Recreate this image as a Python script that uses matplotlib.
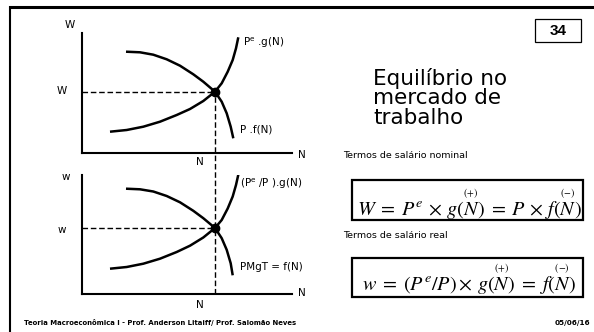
import matplotlib.pyplot as plt

f_top_N = [44, 58, 71.3, 84.7, 98, 111.3, 121.3, 133, 139.7, 144.7, 148.7, 151.3]
f_top_W = [101.3, 100.7, 98.3, 93.7, 87.3, 78.7, 71.3, 61.3, 51.3, 39.7, 26.3, 14.7]
g_top_N = [28, 44.7, 61.3, 78, 94.7, 108, 121.3, 133, 139.7, 145.7, 150.7, 154, 156.3]
g_top_W = [21.3, 23, 26.3, 31.3, 38, 44, 52, 61.3, 69.7, 81.3, 93, 104.7, 115.7]

f_bot_N = [44, 58, 71.3, 84.7, 98, 111.3, 121.3, 133, 139.7, 144.7, 148.7, 150.7]
f_bot_W = [105.3, 104.7, 102.5, 98, 91.7, 83.2, 75.8, 66, 55.8, 44.2, 30.7, 18.7]
g_bot_N = [28, 44.7, 61.3, 78, 94.7, 108, 121.3, 133, 139.7, 145.7, 150.7, 154, 156.3]
g_bot_W = [25.3, 27, 30.3, 35.3, 42, 48.3, 56.5, 66, 74, 85.5, 97.5, 109, 119.3]

eq_top = (133, 61.3)
eq_bot = (133, 66)
eq_top_in_bot = 202  # height of the upper equilibrium seen from the lower origin

title = 'Equilíbrio no\nmercado de\ntrabalho'
slide_no = '34'
footer = 'Teoria Macroeconômica I - Prof. Anderson Litaiff/ Prof. Salomão Neves'
date = '05/06/16'
sub_nominal = 'Termos de salário nominal'
sub_real = 'Termos de salário real'
eq_nominal = (r'$W\;=\;P^{e}\,\times\,g(\overset{{}_{(+)}}{N})\;=\;'
              r'P\,\times\,f(\overset{{}_{(-)}}{N})$')
eq_real = (r'$w\;=\;\left(P^{e}/P\right)\times\,g(\overset{{}_{(+)}}{N})\;=\;'
           r'f(\overset{{}_{(-)}}{N})$')

W, H = 594, 332
fig = plt.figure(figsize=(W / 100, H / 100), dpi=100)
bg = fig.add_axes([0, 0, 1, 1])
bg.set_xlim(0, W)
bg.set_ylim(H, 0)
bg.axis('off')

# slide frame
bg.plot([9, W], [6.5, 6.5], color='black', lw=2.2, solid_capstyle='butt')
bg.plot([9.5, 9.5], [6, H], color='black', lw=1.5, solid_capstyle='butt')

# slide number box
bg.add_patch(plt.Rectangle((535, 19), 46, 23, fill=False, lw=0.9, ec='black'))
bg.text(558, 31, slide_no, ha='center', va='center', fontsize=11,
        fontweight='bold', family='Liberation Sans')

bg.text(373, 98, title, ha='left', va='center', fontsize=15.5, linespacing=0.98,
        family='DejaVu Sans')

bg.text(343, 155, sub_nominal, ha='left', va='center', fontsize=6.8)
bg.text(343, 235, sub_real, ha='left', va='center', fontsize=6.8)

bg.add_patch(plt.Rectangle((352, 180), 231, 40, fill=False, lw=1.6, ec='black'))
bg.add_patch(plt.Rectangle((352, 258), 231, 39, fill=False, lw=1.6, ec='black'))
bg.text(469, 216, eq_nominal, ha='center', va='baseline', fontsize=14.5,
        math_fontfamily='stix')
bg.text(469, 291, eq_real, ha='center', va='baseline', fontsize=14.5,
        math_fontfamily='stix')

bg.text(24, 323, footer, ha='left', va='center', fontsize=4.95, fontweight='bold')
bg.text(590, 323, date, ha='right', va='center', fontsize=5.2, fontweight='bold')


def panel(box, ylim, fN, fW, gN, gW, eq):
    ax = fig.add_axes(box)
    ax.set_facecolor('none')
    ax.set_xlim(0, 210)
    ax.set_ylim(0, ylim)
    for s in ['top', 'right']:
        ax.spines[s].set_visible(False)
    for s in ['left', 'bottom']:
        ax.spines[s].set_linewidth(1.5)
    ax.set_xticks([])
    ax.set_yticks([])
    ax.plot(fN, fW, color='black', lw=1.8, solid_capstyle='butt',
            solid_joinstyle='round')
    ax.plot(gN, gW, color='black', lw=1.8, solid_capstyle='butt',
            solid_joinstyle='round')
    ax.plot([0, eq[0]], [eq[1], eq[1]], color='black', lw=1.0,
            linestyle=(0, (4, 2)))
    ax.plot(eq[0], eq[1], 'o', color='black', ms=6, zorder=5)
    return ax


top = panel([82 / W, (H - 153) / H, 210 / W, 120 / H], 120,
            f_top_N, f_top_W, g_top_N, g_top_W, eq_top)
bot = panel([82 / W, (H - 294) / H, 210 / W, 119 / H], 119,
            f_bot_N, f_bot_W, g_bot_N, g_bot_W, eq_bot)

# vertical dashed line running from the upper point down to the lower axis
bot.plot([eq_bot[0], eq_bot[0]], [0, eq_top_in_bot], color='black', lw=1.0,
         linestyle=(0, (4, 2)), clip_on=False)

lab = dict(fontsize=7.5, va='center')
top.text(-12, 128, 'W', ha='center', **lab)
top.text(-20, 62, 'W', ha='center', **lab)
top.text(118, -9, 'N', ha='center', **lab)
top.text(220, -2, 'N', ha='center', **lab)
top.text(161, 110, r'P$^{\mathrm{e}}$ .g(N)', ha='left', **lab)
top.text(158, 23, 'P .f(N)', ha='left', **lab)

bot.text(-16, 117, 'w', ha='center', **lab)
bot.text(-20, 64, 'w', ha='center', **lab)
bot.text(118, -11, 'N', ha='center', **lab)
bot.text(220, 1, 'N', ha='center', **lab)
bot.text(158, 110, r'(P$^{\mathrm{e}}$ /P ).g(N)', ha='left', **lab)
bot.text(158, 27, 'PMgT = f(N)', ha='left', **lab)

fig.savefig('out.png', dpi=100)
